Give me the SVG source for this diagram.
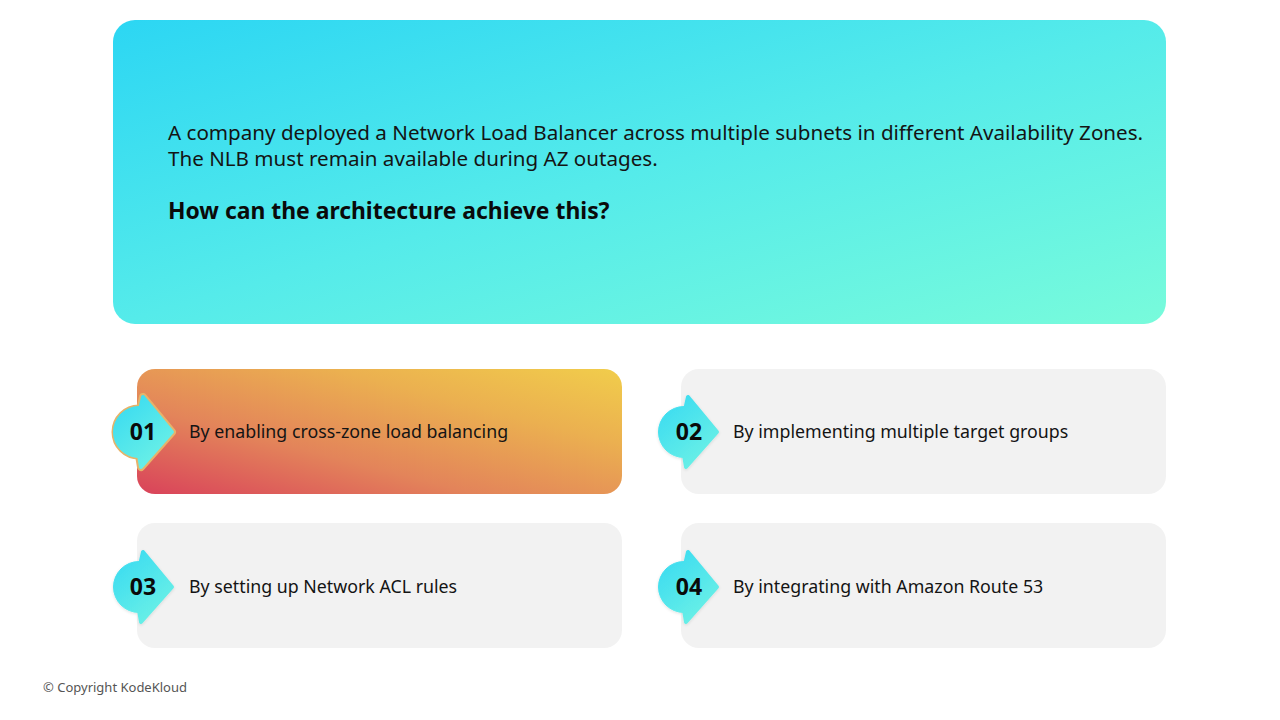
<svg xmlns="http://www.w3.org/2000/svg" width="1280" height="720" viewBox="0 0 1280 720">
  <defs>
    <linearGradient id="topGrad" x1="0" y1="0" x2="1" y2="1">
      <stop offset="0" stop-color="#2cd6f3"/>
      <stop offset="0.5" stop-color="#55ebea"/>
      <stop offset="1" stop-color="#78fbdb"/>
    </linearGradient>
    <linearGradient id="hotGrad" x1="0" y1="1" x2="1" y2="0">
      <stop offset="0" stop-color="#d9425a"/>
      <stop offset="0.35" stop-color="#e3845a"/>
      <stop offset="0.7" stop-color="#ebb050"/>
      <stop offset="1" stop-color="#f1cd4b"/>
    </linearGradient>
    <linearGradient id="badgeGrad" gradientUnits="userSpaceOnUse" x1="-26" y1="-36" x2="34" y2="36">
      <stop offset="0" stop-color="#34d9f2"/>
      <stop offset="1" stop-color="#74f4e4"/>
    </linearGradient>
    <filter id="soft" x="-30%" y="-30%" width="160%" height="160%">
      <feDropShadow dx="0" dy="1" stdDeviation="1.5" flood-color="#000" flood-opacity="0.12"/>
    </filter>
    <g id="badge">
      <circle cx="0" cy="0" r="25.5"/>
      <polygon points="4,-35 33,0 2,35 -4,0" stroke-linejoin="round" stroke-width="4"/>
    </g>
  </defs>
  <style>
    .q { font-family: "Noto Sans", "Open Sans", sans-serif; font-size: 20.6px; fill: #141414; }
    .qb { font-family: "Noto Sans", "Open Sans", sans-serif; font-size: 22.9px; font-weight: bold; fill: #0a0a0a; }
    .card { fill: #f2f2f2; }
    .num { font-family: "Noto Sans", "Open Sans", sans-serif; font-size: 23px; font-weight: bold; fill: #0a0a0a; text-anchor: middle; }
    .lbl { font-family: "Noto Sans", "Open Sans", sans-serif; font-size: 17.8px; fill: #141414; }
    .bfill { fill: url(#badgeGrad); stroke: url(#badgeGrad); }
    .copy { font-family: "Noto Sans", "Open Sans", sans-serif; font-size: 13px; fill: #555; }
  </style>
  <rect width="1280" height="720" fill="#ffffff"/>

  <g id="question">
    <rect x="113" y="20" width="1053" height="304" rx="22" fill="url(#topGrad)"/>
    <text class="q" x="168" y="140">A company deployed a Network Load Balancer across multiple subnets in different Availability Zones.</text>
    <text class="q" x="168" y="166">The NLB must remain available during AZ outages.</text>
    <text class="qb" x="168" y="219">How can the architecture achieve this?</text>
  </g>

  <g id="connectors"></g>

  <g id="option1">
    <rect x="137" y="369" width="485" height="125" rx="18" fill="url(#hotGrad)"/>
    <g transform="translate(139,432)">
      <g stroke="#e6b36a" stroke-width="4" fill="#e6b36a">
        <circle cx="0" cy="0" r="25.5"/>
        <polygon points="4,-35 33,0 2,35 -4,0" stroke-linejoin="round" stroke-width="8"/>
      </g>
      <use href="#badge" class="bfill"/>
      <text class="num" x="4" y="8">01</text>
    </g>
    <text class="lbl" x="189" y="438">By enabling cross-zone load balancing</text>
  </g>

  <g id="option2">
    <rect class="card" x="681" y="369" width="485" height="125" rx="18"/>
    <g transform="translate(684,432)">
      <use href="#badge" class="bfill" filter="url(#soft)"/>
      <text class="num" x="5" y="8">02</text>
    </g>
    <text class="lbl" x="733" y="438">By implementing multiple target groups</text>
  </g>

  <g id="option3">
    <rect class="card" x="137" y="523" width="485" height="125" rx="18"/>
    <g transform="translate(139,587)">
      <use href="#badge" class="bfill" filter="url(#soft)"/>
      <text class="num" x="4" y="8">03</text>
    </g>
    <text class="lbl" x="189" y="593">By setting up Network ACL rules</text>
  </g>

  <g id="option4">
    <rect class="card" x="681" y="523" width="485" height="125" rx="18"/>
    <g transform="translate(684,587)">
      <use href="#badge" class="bfill" filter="url(#soft)"/>
      <text class="num" x="5" y="8">04</text>
    </g>
    <text class="lbl" x="733" y="593">By integrating with Amazon Route 53</text>
  </g>

  <text class="copy" x="43" y="692">© Copyright KodeKloud</text>
</svg>
